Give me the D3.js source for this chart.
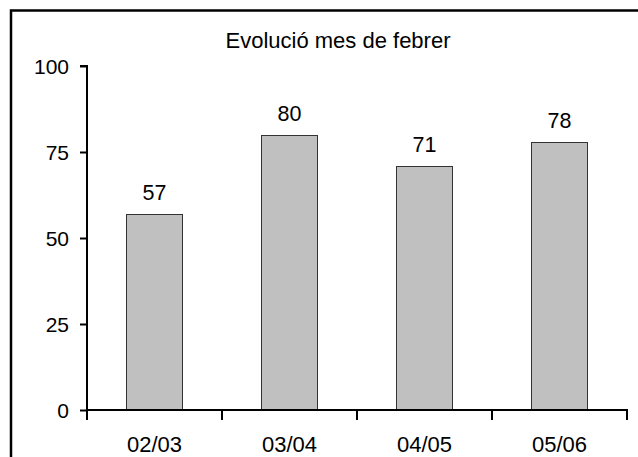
<!DOCTYPE html>
<html>
<head>
<meta charset="utf-8">
<script src="https://cdn.jsdelivr.net/npm/d3@7"></script>
<style>
  html, body { margin: 0; padding: 0; background: #fff; }
  svg { display: block; font-family: "Liberation Sans", Arial, sans-serif; }
</style>
</head>
<body>
<svg id="chart" width="638" height="457"></svg>
<script>
const title = "Evolució mes de febrer";
const categories = ["02/03", "03/04", "04/05", "05/06"];
const values = [57, 80, 71, 78];
const yTicks = [0, 25, 50, 75, 100];

(function () {
const svg = d3.select("#chart");
const pLeft = 87, pRight = 627, pTop = 66, pBottom = 410;
const fs = 21.5;

// frame
svg.append("rect")
  .attr("x", 11).attr("y", 10.5)
  .attr("width", 660).attr("height", 480)
  .attr("fill", "none").attr("stroke", "#000").attr("stroke-width", 2.5);

svg.append("text")
  .attr("x", 338).attr("y", 48)
  .attr("text-anchor", "middle")
  .attr("font-size", 22)
  .text(title);

const x = d3.scaleBand().domain(categories).range([pLeft, pRight]).padding(0);
const y = d3.scaleLinear().domain([0, 100]).range([pBottom, pTop]);
const barW = x.bandwidth() * 0.415;

// bars
svg.append("g").selectAll("rect").data(values).join("rect")
  .attr("x", (d, i) => Math.round(x(categories[i]) + x.bandwidth() / 2 - barW / 2) + 0.5)
  .attr("y", d => Math.round(y(d)) + 0.5)
  .attr("width", Math.round(barW))
  .attr("height", d => pBottom - Math.round(y(d)))
  .attr("fill", "#c0c0c0")
  .attr("stroke", "#333")
  .attr("stroke-width", 1);

// value labels
svg.append("g").selectAll("text").data(values).join("text")
  .attr("x", (d, i) => x(categories[i]) + x.bandwidth() / 2)
  .attr("y", d => y(d) - 14)
  .attr("text-anchor", "middle")
  .attr("font-size", fs)
  .text(d => d);

// y axis
const yAxis = svg.append("g")
  .attr("transform", `translate(${pLeft},0)`)
  .call(d3.axisLeft(y).tickValues(yTicks).tickSize(7).tickPadding(11).tickFormat(d3.format("d")));
yAxis.select(".domain").attr("d", `M-7,${pTop}H0V${pBottom}`).attr("stroke-width", 2);
yAxis.selectAll(".tick line").attr("stroke-width", 2);
yAxis.selectAll("text").attr("font-size", 21).attr("font-family", "Liberation Sans, Arial, sans-serif").attr("fill", "#000").attr("dy", "0.38em");

// x axis
const xAxis = svg.append("g")
  .attr("transform", `translate(0,${pBottom})`)
  .call(d3.axisBottom(x).tickSize(0).tickPadding(25.5));
xAxis.select(".domain").attr("d", `M${pLeft},0H${pRight}V10`).attr("stroke-width", 2);
xAxis.selectAll("text").attr("font-size", 22).attr("font-family", "Liberation Sans, Arial, sans-serif").attr("fill", "#000").attr("dy", "0.75em");
// boundary ticks
const bounds = categories.map(c => x(c)).concat([pRight]);
xAxis.append("g").selectAll("line").data(bounds).join("line")
  .attr("x1", d => d).attr("x2", d => d)
  .attr("y1", 0).attr("y2", 10)
  .attr("stroke", "#000").attr("stroke-width", 2);
})();
</script>
</body>
</html>
